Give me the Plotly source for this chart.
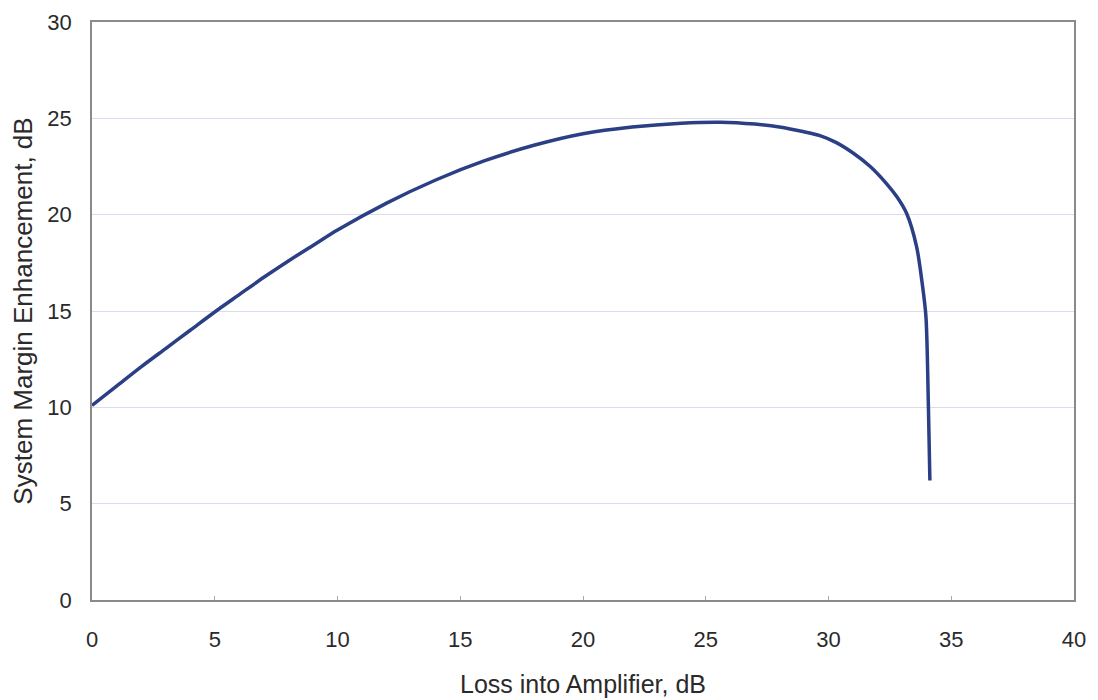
import plotly.graph_objects as go

loss_db = [0, 1, 2, 3, 4, 5, 6, 7, 8, 9, 10, 12, 14, 16, 18, 20, 22, 24, 25.6, 27, 28, 29, 29.65, 30.3, 31.0, 31.7, 32.37, 32.8, 33.18, 33.59, 33.82, 33.97, 34.07, 34.13]
margin_db = [10.1, 11.1, 12.1, 13.05, 14.0, 14.95, 15.85, 16.75, 17.6, 18.4, 19.2, 20.6, 21.8, 22.8, 23.6, 24.2, 24.55, 24.75, 24.8, 24.7, 24.55, 24.3, 24.1, 23.75, 23.2, 22.5, 21.6, 20.9, 20.07, 18.33, 16.4, 14.7, 10.0, 6.2]

x_ticks = [0, 5, 10, 15, 20, 25, 30, 35, 40]
y_ticks = [0, 5, 10, 15, 20, 25, 30]

fig = go.Figure()
fig.add_trace(go.Scatter(
    x=loss_db, y=margin_db, mode="lines",
    line=dict(color="#2a3f85", width=3.5, shape="spline", smoothing=0.8),
    showlegend=False, hoverinfo="skip",
))

font = "Liberation Sans, Arial, sans-serif"
fig.update_layout(
    width=1090, height=692,
    margin=dict(l=84, r=24, t=14, b=100),
    paper_bgcolor="#ffffff", plot_bgcolor="#ffffff",
    font=dict(family=font, color="#2a2a2a", size=22),
    xaxis=dict(
        range=[0, 40], tickvals=x_ticks, ticktext=[str(v) for v in x_ticks],
        showgrid=False, zeroline=False, automargin=False,
        showline=True, linecolor="#8a8a8a", linewidth=1.5, mirror=True,
        ticks="inside", ticklen=4, tickcolor="#aaaaaa",
        ticklabelstandoff=19,
        title=dict(text="Loss into Amplifier, dB", font=dict(size=25, color="#2a2a2a"), standoff=24),
        tickfont=dict(size=22, color="#2a2a2a"),
    ),
    yaxis=dict(
        range=[0, 30], tickvals=y_ticks, ticktext=[str(v) for v in y_ticks],
        showgrid=True, gridcolor="#d9dcec", gridwidth=1, zeroline=False, automargin=False,
        showline=True, linecolor="#8a8a8a", linewidth=1.5, mirror=True,
        ticks="", ticklabelstandoff=14,
        title=dict(text="System Margin Enhancement, dB", font=dict(size=26, color="#2a2a2a"), standoff=18),
        tickfont=dict(size=22, color="#2a2a2a"),
    ),
)

fig.write_html("out.html")
